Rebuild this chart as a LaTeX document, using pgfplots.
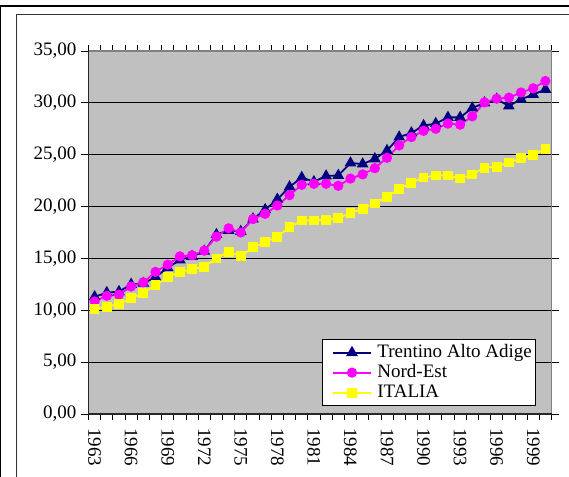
\documentclass[border=0pt]{standalone}
\usepackage{pgfplots}
\usepackage{pgfplotstable}
\pgfplotsset{compat=1.18}
\usepackage{fontspec}
\setmainfont{Liberation Serif}
\definecolor{navyc}{RGB}{0,0,128}
\definecolor{magc}{RGB}{255,0,255}
\definecolor{yelc}{RGB}{255,255,0}
\definecolor{plotbg}{RGB}{192,192,192}
\pgfplotstableread{
year tr ne it
1963 11.3 10.85 10.1
1964 11.7 11.4 10.35
1965 11.8 11.5 10.6
1966 12.5 12.3 11.15
1967 12.6 12.7 11.7
1968 13.2 13.7 12.4
1969 14.1 14.4 13.2
1970 14.85 15.2 13.7
1971 15.2 15.3 13.95
1972 15.7 15.75 14.2
1973 17.3 17.1 15.0
1974 17.7 17.9 15.65
1975 17.6 17.5 15.2
1976 18.8 18.8 16.1
1977 19.7 19.3 16.55
1978 20.7 20.1 17.1
1979 21.9 21.1 18.0
1980 22.8 22.1 18.65
1981 22.4 22.2 18.65
1982 22.95 22.2 18.7
1983 23.0 22.0 18.9
1984 24.2 22.7 19.35
1985 24.1 23.1 19.8
1986 24.6 23.7 20.3
1987 25.4 24.7 20.95
1988 26.7 25.9 21.7
1989 27.1 26.7 22.3
1990 27.8 27.3 22.8
1991 28.0 27.5 23.0
1992 28.6 28.0 23.0
1993 28.6 27.9 22.7
1994 29.5 28.7 23.1
1995 30.0 30.05 23.75
1996 30.35 30.4 23.85
1997 29.7 30.5 24.25
1998 30.35 31.0 24.65
1999 30.8 31.4 25.0
2000 31.3 32.1 25.55
}\datatable
\begin{document}
\fontsize{19bp}{22bp}\selectfont
\begin{tikzpicture}
\useasboundingbox (0bp,0bp) rectangle (569bp,477bp);
\begin{scope}[x=1bp,y=1bp]
\fill[white] (0,0) rectangle (569,477);
\draw[line width=2bp] (0,471) -- (569,471);
\draw[line width=1.5bp] (0.75,471) -- (0.75,0);
\draw[line width=1.2bp, black!80] (16.5,0) -- (16.5,462.5) -- (569,462.5);
\end{scope}
\begin{axis}[
  at={(88.5bp,63bp)}, anchor=south west,
  scale only axis, width=463bp, height=363bp,
  xmin=1962.5, xmax=2000.5, ymin=0, ymax=35,
  clip=false,
  axis background/.style={fill=plotbg},
  axis line style={draw=none},
  ytick={0,5,...,35},
  xtick={1963,1966,...,1999},
  xticklabels={1963,1966,1969,1972,1975,1978,1981,1984,1987,1990,1993,1996,1999},
  minor xtick={1962.5,1963.5,...,2000.5},
  tick align=outside,
  major tick length=8bp,
  minor tick length=6bp,
  major x tick style={draw=none},
  minor x tick style={black, line width=0.8bp},
  major y tick style={black, line width=0.8bp},
  ymajorgrids,
  major grid style={black, line width=0.8bp},
  xticklabel style={rotate=-90, anchor=west, inner sep=0pt},
  xticklabel shift=6bp,
  yticklabel style={inner sep=0pt, /pgf/number format/.cd, fixed, fixed zerofill, precision=2, use comma, assume math mode=true},
  yticklabel shift=4bp,
  legend style={at={(0.966,0.022)}, anchor=south east, draw=black, fill=white, line width=0.8bp,
    inner xsep=2bp, inner ysep=3bp,
    nodes={inner sep=1.5bp, text height=13bp, text depth=4bp},
    font=\fontsize{19bp}{20bp}\selectfont},
  legend cell align=left,
  legend image code/.code={\path (-8bp,0bp) (42bp,0bp);\draw[mark repeat=2, mark phase=2] plot coordinates {(0bp,0bp) (19bp,0bp) (38bp,0bp)};},
]
\addplot[navyc, line width=1.8bp, mark=triangle*, mark size=5bp, mark options={solid, fill=navyc, draw=navyc}] table[x=year, y=tr] {\datatable};
\addlegendentry{Trentino Alto Adige}
\addplot[magc, line width=1.8bp, mark=*, mark size=4.2bp, mark options={solid, fill=magc, draw=magc}] table[x=year, y=ne] {\datatable};
\addlegendentry{Nord-Est}
\addplot[yelc, line width=1.8bp, mark=square*, mark size=4bp, mark options={solid, fill=yelc, draw=yelc}] table[x=year, y=it] {\datatable};
\addlegendentry{ITALIA}
\draw[gray, line width=1.2bp] (rel axis cs:0,1) -- (rel axis cs:1,1) -- (rel axis cs:1,0);
\draw[black!85, line width=1.2bp] (rel axis cs:0,1) -- (rel axis cs:0,0) -- (rel axis cs:1,0);
\end{axis}
\end{tikzpicture}
\end{document}
